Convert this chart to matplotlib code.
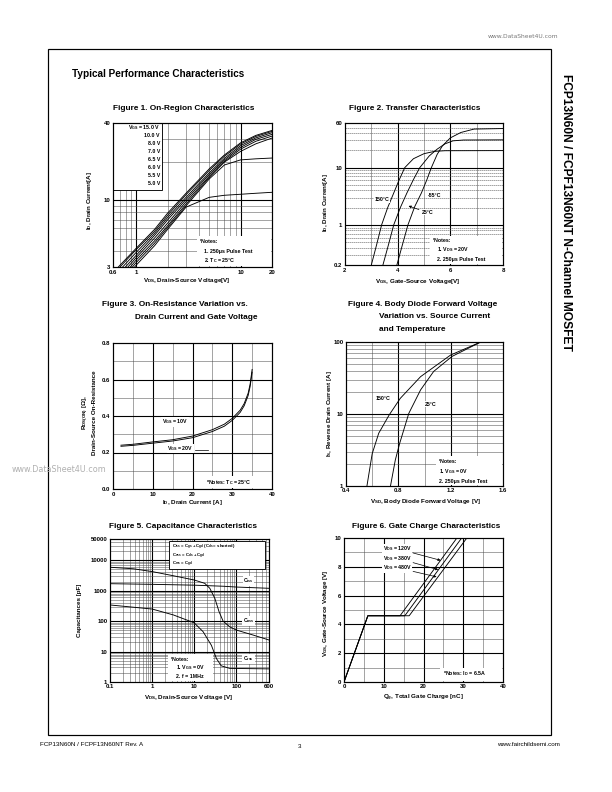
import matplotlib.pyplot as plt
from matplotlib.patches import Rectangle
from matplotlib.ticker import NullLocator

plt.rcParams['font.family'] = ['Liberation Sans', 'DejaVu Sans']
plt.rcParams['font.weight'] = 'bold'
plt.rcParams['mathtext.fontset'] = 'custom'
plt.rcParams['mathtext.rm'] = 'Liberation Sans:bold'
plt.rcParams['mathtext.it'] = 'Liberation Sans:bold'
plt.rcParams['mathtext.bf'] = 'Liberation Sans:bold'
plt.rcParams['mathtext.default'] = 'rm'

# Figure 1 - on-region, I_D vs V_DS for each V_GS
f1_vds = [0.6, 0.7, 1, 1.5, 2, 3, 5, 7, 10, 14, 20]
f1_id = {
    '15.0 V': [2.7, 3.1, 4.2, 5.9, 7.9, 11.3, 17.5, 22.5, 28.0, 32.0, 35.0],
    '10.0 V': [2.6, 3.0, 4.1, 5.7, 7.6, 11.0, 17.0, 22.0, 27.4, 31.4, 34.4],
    '8.0 V': [2.5, 2.85, 3.9, 5.5, 7.3, 10.5, 16.3, 21.2, 26.6, 30.6, 33.6],
    '7.0 V': [2.35, 2.7, 3.7, 5.3, 7.0, 10.1, 15.8, 20.6, 25.8, 29.8, 32.6],
    '6.5 V': [2.2, 2.55, 3.55, 5.05, 6.6, 9.7, 15.3, 20.1, 25.0, 28.8, 31.6],
    '6.0 V': [2.1, 2.4, 3.4, 4.8, 6.3, 9.3, 15.0, 19.8, 24.0, 27.5, 30.5],
    '5.5 V': [2.0, 2.3, 3.25, 4.6, 6.1, 9.0, 14.6, 18.8, 20.6, 21.0, 21.3],
    '5.0 V': [1.9, 2.2, 3.1, 4.4, 5.9, 8.8, 10.5, 10.9, 11.1, 11.3, 11.5],
}

# Figure 2 - transfer characteristics
f2_vgs_150 = [3.0, 3.2, 3.39, 3.62, 3.85, 4.05, 4.27, 4.6, 5.0, 5.4, 5.8, 8.0]
f2_id_150 = [0.2, 0.45, 1.0, 2.0, 3.6, 6.0, 10, 14.3, 17.5, 19.2, 19.7, 19.8]
f2_vgs_25 = [3.44, 3.65, 3.85, 4.1, 4.35, 4.6, 4.84, 5.2, 5.5, 5.8, 6.1, 6.5, 8.0]
f2_id_25 = [0.2, 0.45, 1.0, 2.0, 3.6, 6.2, 10, 16, 21, 26, 29.3, 30.3, 30.5]
f2_vgs_m55 = [3.97, 4.18, 4.39, 4.65, 4.9, 5.1, 5.28, 5.5, 5.7, 6.0, 6.4, 6.9, 8.0]
f2_id_m55 = [0.2, 0.45, 1.0, 2.1, 3.6, 6.0, 10, 17, 24, 33, 41, 47, 48]

# Figure 3 - on-resistance
f3_id = [2, 5, 10, 15, 20, 25, 28, 30, 32, 33, 34, 34.5, 35]
f3_r10 = [0.240, 0.245, 0.258, 0.270, 0.290, 0.325, 0.355, 0.387, 0.432, 0.468, 0.525, 0.575, 0.655]
f3_r20 = [0.234, 0.239, 0.251, 0.263, 0.281, 0.315, 0.344, 0.376, 0.420, 0.456, 0.512, 0.562, 0.640]

# Figure 4 - body diode
f4_vsd_150 = [0.56, 0.60, 0.65, 0.73, 0.815, 0.97, 1.2, 1.43]
f4_is_150 = [1, 2.8, 5.4, 9.7, 16.5, 33, 66, 100]
f4_vsd_25 = [0.74, 0.777, 0.81, 0.88, 0.97, 1.07, 1.21, 1.43]
f4_is_25 = [1, 2.3, 3.9, 10.2, 21.6, 39, 63, 100]

# Figure 5 - capacitances
f5_v_a = [0.1, 0.36, 1, 3.2, 10, 17.8, 23.5, 31, 39, 48.7, 70, 100, 250, 600]
f5_c_a = [5900, 5250, 4250, 3100, 2250, 1750, 1200, 560, 205, 100, 65, 51, 35, 24]
f5_v_ciss = [0.1, 1, 10, 50, 100, 600]
f5_c_ciss = [1700, 1620, 1520, 1400, 1320, 1200]
f5_v_crss = [0.1, 1, 3.2, 10, 16.3, 25.7, 33.8, 44, 70, 600]
f5_c_crss = [340, 250, 160, 88, 45, 16, 5.9, 3.4, 2.8, 2.7]

# Figure 6 - gate charge
f6_qg = {'120V': [0, 6.0, 14.1, 28.4], '380V': [0, 6.0, 15.3, 29.6], '480V': [0, 6.0, 16.4, 30.9]}
f6_vgs = [0, 4.6, 4.6, 10]

W, H = 612, 792
fig = plt.figure(figsize=(8.5, 11), dpi=72)


def px(x, y):
    return (x / W, 1 - y / H)


def panel(l, t, r, b, xlim, ylim, xlog=False, ylog=False):
    ax = fig.add_axes([l / W, 1 - b / H, (r - l) / W, (b - t) / H])
    if xlog:
        ax.set_xscale('log')
    if ylog:
        ax.set_yscale('log')
    ax.set_xlim(xlim)
    ax.set_ylim(ylim)
    ax.tick_params(length=0, labelsize=6, pad=2.5)
    for s in ax.spines.values():
        s.set_linewidth(1.2)
        s.set_zorder(6)
    return ax


def ticks(ax, xt, yt):
    ax.set_xticks(xt)
    ax.set_xticklabels([str(v) for v in xt])
    ax.set_yticks(yt)
    ax.set_yticklabels([str(v) for v in yt])
    ax.xaxis.set_minor_locator(NullLocator())
    ax.yaxis.set_minor_locator(NullLocator())


def grid(ax, xmin, xmaj, ymin, ymaj, ls='-'):
    for v in xmin:
        ax.axvline(v, color='0.3', lw=0.5, zorder=1)
    for v in xmaj:
        ax.axvline(v, color='black', lw=1.1, zorder=1)
    for v in ymin:
        ax.axhline(v, color='0.3', lw=0.5, ls=ls, zorder=1)
    for v in ymaj:
        ax.axhline(v, color='black', lw=1.1, zorder=1)


def note(ax, x, y, s, size=5.3, ha='left', box=False):
    kw = dict(boxstyle='square,pad=0.15', fc='white', ec='none') if box else None
    ax.text(*px(x, y), s, transform=fig.transFigure, fontsize=size, ha=ha, va='center', zorder=7, bbox=kw)


def whitebox(ax, x0, y0, x1, y1, ec='none'):
    ax.add_patch(Rectangle(px(x0, y1), (x1 - x0) / W, (y1 - y0) / H, transform=fig.transFigure,
                           fc='white', ec=ec, lw=0.9, zorder=5))


def label(x, y, s, rot=0, size=6.2):
    fig.text(*px(x, y), s, rotation=rot, ha='center', va='center', fontsize=size)


# page furniture
fig.add_artist(Rectangle(px(48, 735), (551 - 48) / W, (735 - 49) / H, transform=fig.transFigure,
                         fill=False, lw=1.2, ec='black'))
fig.text(*px(558, 37), 'www.DataSheet4U.com', ha='right', va='center', fontsize=6,
         color='#777777', family='DejaVu Sans', fontweight='normal')
fig.text(*px(106, 470), 'www.DataSheet4U.com', ha='right', va='center', fontsize=8,
         color='#b0b0b0', family='DejaVu Sans', fontweight='normal')
fig.text(*px(72, 74), 'Typical Performance Characteristics', fontsize=10, va='center')
fig.text(*px(566, 212), 'FCP13N60N / FCPF13N60NT N-Channel MOSFET', rotation=-90,
         ha='center', va='center', fontsize=12)
fig.text(*px(40, 744), 'FCP13N60N / FCPF13N60NT Rev. A', fontsize=6.3, va='center', fontweight='normal')
fig.text(*px(300, 747), '3', fontsize=6.3, va='center', ha='center', fontweight='normal')
fig.text(*px(560, 744), 'www.fairchildsemi.com', fontsize=6.3, va='center', ha='right', fontweight='normal')

# ---------------- Figure 1
label(184, 108, 'Figure 1. On-Region Characteristics', size=8.2)
ax1 = panel(113, 123, 272, 267, (0.6, 20), (3, 40), xlog=True, ylog=True)
ticks(ax1, [0.6, 1, 10, 20], [3, 10, 40])
grid(ax1, [0.7, 0.8, 0.9] + list(range(2, 10)), [1, 10], list(range(4, 10)) + [20, 30], [10])
for k, v in f1_id.items():
    ax1.plot(f1_vds, v, color='black', lw=0.9, zorder=3)
whitebox(ax1, 113, 123, 162, 190, ec='black')
for i, k in enumerate(f1_id):
    s = 'V$_{GS}$ = ' + k if i == 0 else k
    note(ax1, 160, 128 + i * 7.9, s, size=5.2, ha='right')
whitebox(ax1, 197, 236, 271, 266)
note(ax1, 200, 241.5, '*Notes:')
note(ax1, 204, 251, '1. 250μs Pulse Test')
note(ax1, 204, 260.5, '2. T$_C$ = 25°C')
label(187, 280, 'V$_{DS}$, Drain-Source Voltage[V]')
label(89, 200, 'I$_D$, Drain Current[A]', rot=90)

# ---------------- Figure 2
label(415, 108, 'Figure 2. Transfer Characteristics', size=8.2)
ax2 = panel(345, 123, 503, 265, (2, 8), (0.2, 60), ylog=True)
ticks(ax2, [2, 4, 6, 8], [0.2, 1, 10, 60])
grid(ax2, [3, 5, 7], [4, 6], [0.3, 0.4, 0.5, 0.6, 0.7, 0.8, 0.9] + list(range(2, 10)) + [20, 30, 40, 50],
     [1, 10], ls=(0, (3, 1)))
ax2.plot(f2_vgs_150, f2_id_150, color='black', lw=0.9, zorder=3)
ax2.plot(f2_vgs_25, f2_id_25, color='black', lw=0.9, zorder=3)
ax2.plot(f2_vgs_m55, f2_id_m55, color='black', lw=0.9, zorder=3)
ax2.text(3.4, 2.75, '150°C', fontsize=5.3, ha='center', va='center', zorder=7,
         bbox=dict(boxstyle='square,pad=0.1', fc='white', ec='none'))
ax2.text(5.15, 3.3, '-55°C', fontsize=5.3, ha='left', va='center', zorder=7,
         bbox=dict(boxstyle='square,pad=0.1', fc='white', ec='none'))
ax2.annotate('25°C', xy=(4.34, 2.2), xytext=(4.9, 1.65), fontsize=5.3, va='center', zorder=7,
             bbox=dict(boxstyle='square,pad=0.1', fc='white', ec='none'),
             arrowprops=dict(arrowstyle='-|>', lw=0.7, color='black', mutation_scale=5))
whitebox(ax2, 430, 236, 502, 264)
note(ax2, 433, 240.5, '*Notes:')
note(ax2, 437, 250, '1. V$_{DS}$ = 20V')
note(ax2, 437, 259.5, '2. 250μs Pulse Test')
label(418, 281, 'V$_{GS}$, Gate-Source Voltage[V]')
label(325, 202, 'I$_D$, Drain Current[A]', rot=90)

# ---------------- Figure 3
fig.text(*px(102, 304), 'Figure 3. On-Resistance Variation vs.', fontsize=8.2, va='center')
fig.text(*px(135, 317), 'Drain Current and Gate Voltage', fontsize=8.2, va='center')
ax3 = panel(113, 343, 272, 489, (0, 40), (0, 0.8))
ax3.set_xticks([0, 10, 20, 30, 40])
ax3.set_xticklabels(['0', '10', '20', '30', '40'])
ax3.set_yticks([0, 0.2, 0.4, 0.6, 0.8])
ax3.set_yticklabels(['0.0', '0.2', '0.4', '0.6', '0.8'])
grid(ax3, [5, 15, 25, 35], [10, 20, 30], [0.1, 0.3, 0.5, 0.7], [0.2, 0.4, 0.6])
ax3.plot(f3_id, f3_r10, color='black', lw=0.9, zorder=3)
ax3.plot(f3_id, f3_r20, color='black', lw=0.9, zorder=3)
ax3.text(12.3, 0.368, 'V$_{GS}$ = 10V', fontsize=5.3, va='center', zorder=7,
         bbox=dict(boxstyle='square,pad=0.1', fc='white', ec='none'))
ax3.text(13.6, 0.222, 'V$_{GS}$ = 20V', fontsize=5.3, va='center', zorder=7,
         bbox=dict(boxstyle='square,pad=0.1', fc='white', ec='none'))
ax3.plot([20.6, 23.8], [0.214, 0.214], color='black', lw=0.7, zorder=4)
whitebox(ax3, 203, 476, 271, 488)
note(ax3, 206, 482.5, '*Notes: T$_C$ = 25°C')
label(192, 503, 'I$_D$, Drain Current [A]')
label(86, 413, 'R$_{DS(ON)}$ [Ω],', rot=90)
label(95, 413, 'Drain-Source On-Resistance', rot=90)

# ---------------- Figure 4
fig.text(*px(348, 304), 'Figure 4. Body Diode Forward Voltage', fontsize=8.2, va='center')
fig.text(*px(379, 316.5), 'Variation vs. Source Current', fontsize=8.2, va='center')
fig.text(*px(379, 329), 'and Temperature', fontsize=8.2, va='center')
ax4 = panel(346, 342, 503, 486, (0.4, 1.6), (1, 100), ylog=True)
ticks(ax4, [0.4, 0.8, 1.2, 1.6], [1, 10, 100])
grid(ax4, [0.6, 1.0, 1.4], [0.8, 1.2], list(range(2, 10)) + list(range(20, 100, 10)), [10])
ax4.plot(f4_vsd_150, f4_is_150, color='black', lw=0.9, zorder=3)
ax4.plot(f4_vsd_25, f4_is_25, color='black', lw=0.9, zorder=3)
ax4.text(0.68, 16.2, '150°C', fontsize=5.3, ha='center', va='center', zorder=7,
         bbox=dict(boxstyle='square,pad=0.1', fc='white', ec='none'))
ax4.text(1.045, 13.6, '25°C', fontsize=5.3, ha='center', va='center', zorder=7,
         bbox=dict(boxstyle='square,pad=0.1', fc='white', ec='none'))
whitebox(ax4, 436, 456, 502, 485)
note(ax4, 439, 461.5, '*Notes:')
note(ax4, 439, 471.5, '1. V$_{GS}$ = 0V')
note(ax4, 439, 481, '2. 250μs Pulse Test')
label(425, 502, 'V$_{SD}$, Body Diode Forward Voltage [V]')
label(330, 414, 'I$_S$, Reverse Drain Current [A]', rot=90)

# ---------------- Figure 5
label(183, 526, 'Figure 5. Capacitance Characteristics', size=8.2)
ax5 = panel(110, 539, 269, 682, (0.1, 600), (1, 50000), xlog=True, ylog=True)
ticks(ax5, [0.1, 1, 10, 100, 600], [1, 10, 100, 1000, 10000, 50000])
xm = [d * m for d in (0.1, 1, 10, 100) for m in range(2, 10) if d * m < 600]
ym = [d * m for d in (1, 10, 100, 1000, 10000) for m in range(2, 10) if d * m < 50000]
grid(ax5, xm, [1, 10, 100], ym, [10, 100, 1000, 10000])
ax5.plot(f5_v_a, f5_c_a, color='black', lw=0.9, zorder=3)
ax5.plot(f5_v_ciss, f5_c_ciss, color='black', lw=0.9, zorder=3)
ax5.plot(f5_v_crss, f5_c_crss, color='black', lw=0.9, zorder=3)
whitebox(ax5, 169, 541, 265, 569, ec='black')
note(ax5, 172, 547, 'C$_{iss}$ = C$_{gs}$ + C$_{gd}$ (C$_{ds}$ = shorted)', size=4.3)
note(ax5, 172, 555.3, 'C$_{oss}$ = C$_{ds}$ + C$_{gd}$', size=4.3)
note(ax5, 172, 563.6, 'C$_{rss}$ = C$_{gd}$', size=4.3)
for s, y in (('C$_{iss}$', 581), ('C$_{oss}$', 621), ('C$_{rss}$', 659)):
    note(ax5, 248.5, y, s, size=5, ha='center', box=True)
whitebox(ax5, 168, 654, 213, 681)
note(ax5, 171, 659.5, '*Notes:')
note(ax5, 176, 668, '1. V$_{GS}$ = 0V')
note(ax5, 176, 676.5, '2. f = 1MHz')
label(189, 698, 'V$_{DS}$, Drain-Source Voltage [V]')
label(79, 610, 'Capacitances [pF]', rot=90)

# ---------------- Figure 6
label(426, 526, 'Figure 6. Gate Charge Characteristics', size=8.2)
ax6 = panel(344, 538, 503, 682, (0, 40), (0, 10))
ax6.set_xticks([0, 10, 20, 30, 40])
ax6.set_yticks([0, 2, 4, 6, 8, 10])
grid(ax6, [5, 15, 25, 35], [10, 20, 30], [1, 3, 5, 7, 9], [2, 4, 6, 8])
for k, q in f6_qg.items():
    ax6.plot(q, f6_vgs, color='black', lw=0.9, zorder=3)
tips = {'120V': (24.3, 8.45), '380V': (23.7, 7.8), '480V': (23.3, 7.3)}
for i, k in enumerate(f6_qg):
    ax6.annotate('V$_{DS}$ = ' + k, xy=tips[k], xytext=(9.7, 9.26 - i * 0.66), fontsize=5.2,
                 va='center', zorder=7, bbox=dict(boxstyle='square,pad=0.1', fc='white', ec='none'),
                 arrowprops=dict(arrowstyle='-|>', lw=0.7, color='black', mutation_scale=5,
                                 shrinkA=1, shrinkB=0))
whitebox(ax6, 440, 668, 502, 681)
note(ax6, 443, 674, '*Notes: I$_D$ = 6.5A')
label(423, 698, 'Q$_g$, Total Gate Charge [nC]')
label(326, 613, 'V$_{GS}$, Gate-Source Voltage [V]', rot=90)

fig.savefig('out.png', dpi=72)
